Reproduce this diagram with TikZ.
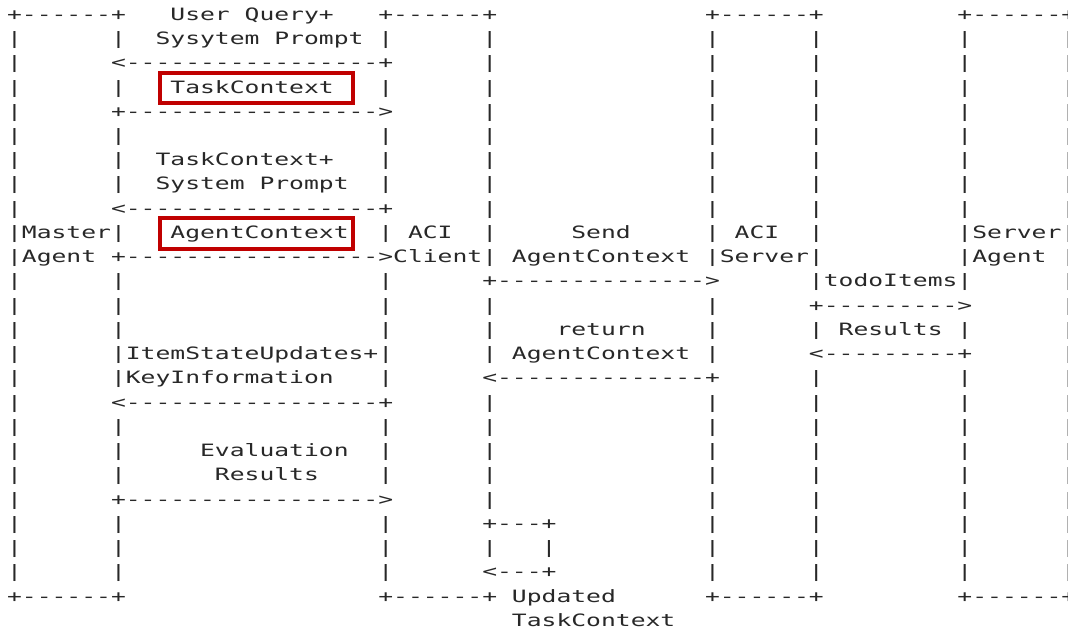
\documentclass[tikz,border=0pt]{standalone}
\usepackage{fontspec}
\newfontfamily\asciifont[FakeStretch=1.451,Ligatures=TeXOff]{DejaVu Sans Mono}
\definecolor{ink}{RGB}{40,40,40}
\definecolor{hlred}{RGB}{192,0,0}
\tikzset{
  txt/.style={anchor=base west,inner sep=0pt,outer sep=0pt,text=ink,
    font=\asciifont\fontsize{17}{20}\selectfont},
  redbox/.style={draw=hlred,line width=4pt}
}
% place text #3 at row #1, column #2 of the monospace grid
\newcommand\At[3]{\node[txt] (t#1-#2) at ({7.075+14.85*#2},{-(20.3+24.24*#1)}) {#3};}
\newcommand\Bars[2]{\foreach \c in {#2} {\At{#1}{\c}{|}}}
\begin{document}
\begin{tikzpicture}[x=1pt,y=1pt]
\fill[white] (0,0) rectangle (1068,-630);
\useasboundingbox (0,0) rectangle (1068,-630);
% row 0
\At{0}{0}{+------+}
\At{0}{11}{User}
\At{0}{16}{Query+}
\At{0}{25}{+------+}
\At{0}{47}{+------+}
\At{0}{64}{+------+}
% row 1
\Bars{1}{0,7,25,32,47,54,64,71}
\At{1}{10}{Sysytem}
\At{1}{18}{Prompt}
% row 2
\Bars{2}{0,32,47,54,64,71}
\At{2}{7}{<-----------------+}
% row 3
\Bars{3}{0,7,25,32,47,54,64,71}
\At{3}{11}{TaskContext}
% row 4
\Bars{4}{0,32,47,54,64,71}
\At{4}{7}{+----------------->}
% row 5
\Bars{5}{0,7,25,32,47,54,64,71}
% row 6
\Bars{6}{0,7,25,32,47,54,64,71}
\At{6}{10}{TaskContext+}
% row 7
\Bars{7}{0,7,25,32,47,54,64,71}
\At{7}{10}{System}
\At{7}{17}{Prompt}
% row 8
\Bars{8}{0,32,47,54,64,71}
\At{8}{7}{<-----------------+}
% row 9
\Bars{9}{0,7,25,32,47,54,64,71}
\At{9}{1}{Master}
\At{9}{11}{AgentContext}
\At{9}{27}{ACI}
\At{9}{38}{Send}
\At{9}{49}{ACI}
\At{9}{65}{Server}
% row 10
\Bars{10}{0,32,47,54,64,71}
\At{10}{1}{Agent}
\At{10}{7}{+----------------->}
\At{10}{26}{Client}
\At{10}{34}{AgentContext}
\At{10}{48}{Server}
\At{10}{65}{Agent}
% row 11
\Bars{11}{0,7,25,54,64,71}
\At{11}{32}{+-------------->}
\At{11}{55}{todoItems}
% row 12
\Bars{12}{0,7,25,32,47,71}
\At{12}{54}{+--------->}
% row 13
\Bars{13}{0,7,25,32,47,54,64,71}
\At{13}{37}{return}
\At{13}{56}{Results}
% row 14
\Bars{14}{0,7,25,32,47,71}
\At{14}{8}{ItemStateUpdates+}
\At{14}{34}{AgentContext}
\At{14}{54}{<---------+}
% row 15
\Bars{15}{0,7,25,54,64,71}
\At{15}{8}{KeyInformation}
\At{15}{32}{<--------------+}
% row 16
\Bars{16}{0,32,47,54,64,71}
\At{16}{7}{<-----------------+}
% row 17
\Bars{17}{0,7,25,32,47,54,64,71}
% row 18
\Bars{18}{0,7,25,32,47,54,64,71}
\At{18}{13}{Evaluation}
% row 19
\Bars{19}{0,7,25,32,47,54,64,71}
\At{19}{14}{Results}
% row 20
\Bars{20}{0,32,47,54,64,71}
\At{20}{7}{+----------------->}
% row 21
\Bars{21}{0,7,25,47,54,64,71}
\At{21}{32}{+---+}
% row 22
\Bars{22}{0,7,25,32,36,47,54,64,71}
% row 23
\Bars{23}{0,7,25,47,54,64,71}
\At{23}{32}{<---+}
% row 24
\At{24}{0}{+------+}
\At{24}{25}{+------+}
\At{24}{34}{Updated}
\At{24}{47}{+------+}
\At{24}{64}{+------+}
% row 25
\At{25}{34}{TaskContext}
% highlight boxes
\draw[redbox] (159.5,-72.5) rectangle (352.5,-102.5);
\draw[redbox] (159.5,-217.5) rectangle (352.5,-248.5);
\end{tikzpicture}
\end{document}
